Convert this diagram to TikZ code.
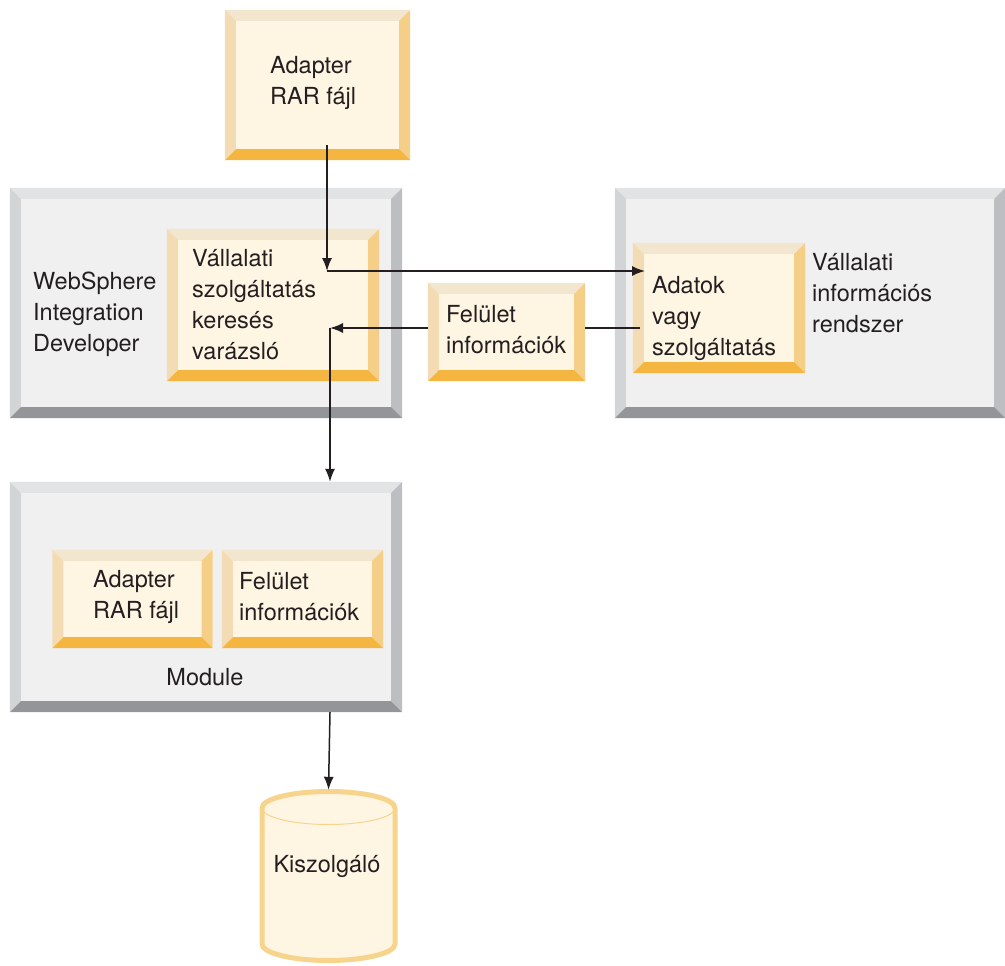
\documentclass[tikz,border=0pt]{standalone}
\usepackage{fontspec}
\setmainfont{TeX Gyre Heros}
\usetikzlibrary{arrows.meta}

\definecolor{orface}{HTML}{FFF5E3}
\definecolor{ortop}{HTML}{F3E6CE}
\definecolor{orleft}{HTML}{F3DCB4}
\definecolor{orright}{HTML}{F5CE88}
\definecolor{orbot}{HTML}{F4B640}
\definecolor{grface}{HTML}{F0F0F0}
\definecolor{grtop}{HTML}{E2E3E5}
\definecolor{grleft}{HTML}{D3D4D6}
\definecolor{grright}{HTML}{BDBEC1}
\definecolor{grbot}{HTML}{939598}
\definecolor{cylline}{HTML}{F7D48C}
\definecolor{txtcol}{HTML}{231F20}

% bevelled frame round a named box node: #1 node, #2 palette (or/gr)
\newcommand{\bevel}[2]{%
  \fill[#2top] (#1.north west) -- (#1.north east) -- ([shift={(-11,11)}]#1.north east) -- ([shift={(11,11)}]#1.north west) -- cycle;
  \fill[#2left] (#1.north west) -- ([shift={(11,11)}]#1.north west) -- ([shift={(11,-11)}]#1.south west) -- (#1.south west) -- cycle;
  \fill[#2right] (#1.north east) -- (#1.south east) -- ([shift={(-11,-11)}]#1.south east) -- ([shift={(-11,11)}]#1.north east) -- cycle;
  \fill[#2bot] (#1.south west) -- ([shift={(11,-11)}]#1.south west) -- ([shift={(-11,-11)}]#1.south east) -- (#1.south east) -- cycle;
}

\tikzset{
  obox/.style={fill=orface, inner sep=0pt},
  gbox/.style={fill=grface, inner sep=0pt},
  txt/.style={font=\fontsize{23.5}{31}\selectfont, align=left, inner sep=0pt, text=txtcol},
  line/.style={line width=1.5pt, draw=txtcol},
  arr/.style={line, -{Latex[length=13pt,width=10pt]}},
}

\begin{document}
\begin{tikzpicture}[x=1pt,y=-1pt]
    \useasboundingbox (0,0) rectangle (1005,966);
    % grey frames
    \node[gbox, minimum width=392, minimum height=230] (wid) at (206,303) {};
    \node[gbox, minimum width=390, minimum height=230] (eis) at (810,303) {};
    \node[gbox, minimum width=392, minimum height=230] (module) at (206,597) {};
    \foreach \n in {wid,eis,module}{
      \bevel{\n}{gr}
    }
    % orange boxes
    \node[obox, minimum width=185, minimum height=150] (rar) at (317.5,85) {};
    \node[obox, minimum width=212, minimum height=152] (wizard) at (273,305) {};
    \node[obox, minimum width=157, minimum height=98] (feli) at (506.5,332) {};
    \node[obox, minimum width=172, minimum height=130] (adatok) at (719,308) {};
    \node[obox, minimum width=160, minimum height=98] (modrar) at (132.5,599) {};
    \node[obox, minimum width=161, minimum height=98] (modfel) at (302.5,599) {};
    \foreach \n in {rar,wizard,feli,adatok,modrar,modfel}{
      \bevel{\n}{or}
    }
    % server
    \filldraw[fill=orface, draw=cylline, line width=5pt] (262,808) -- (262,944) arc (180:0:66.5 and 16.5) -- (395,808) arc (0:-180:66.5 and 16.5) -- cycle;
    \draw[cylline, line width=1pt] (262,808) arc (180:0:66.5 and 16.5);
    \node[inner sep=0pt, minimum width=133, minimum height=172] (srv) at (328.5,876) {};

    % texts
    \node[txt, anchor=west] (rart) at (270,82.5) {Adapter\\RAR fájl};
    \node[txt, anchor=west] (widt) at (33,314) {WebSphere\\Integration\\Developer};
    \node[txt, anchor=west] (wizardt) at (192,305) {Vállalati\\szolgáltatás\\keresés\\varázsló};
    \node[txt, anchor=west] (felit) at (446,330) {Felület\\információk};
    \node[txt, anchor=west] (adatokt) at (652,318) {Adatok\\vagy\\szolgáltatás};
    \node[txt, anchor=west] (eist) at (812,293) {Vállalati\\információs\\rendszer};
    \node[txt, anchor=west] (modrart) at (93,597) {Adapter\\RAR fájl};
    \node[txt, anchor=west] (modfelt) at (239,597) {Felület\\információk};
    \node[txt] (modulet) at (205,677) {Module};
    \node[txt] (srvt) at (327,866) {Kiszolgáló};

    % connectors
    \coordinate (s1) at (327,145);
    \coordinate (j1) at (327,271);
    \coordinate (e1) at (645,271);
    \coordinate (b1) at (640,328);
    \coordinate (j2) at (330,328);
    \draw[arr] (s1) -- (j1);
    \draw[arr] (j1) -- (e1);
    \draw[line] (b1) -- (b1 -| feli.east);
    \draw[arr] (b1 -| feli.west) -- (j2);
    \draw[arr] (j2) -- (j2 |- module.north);
    \draw[arr] (j2 |- module.south) -- (srv.north);
\end{tikzpicture}
\end{document}
